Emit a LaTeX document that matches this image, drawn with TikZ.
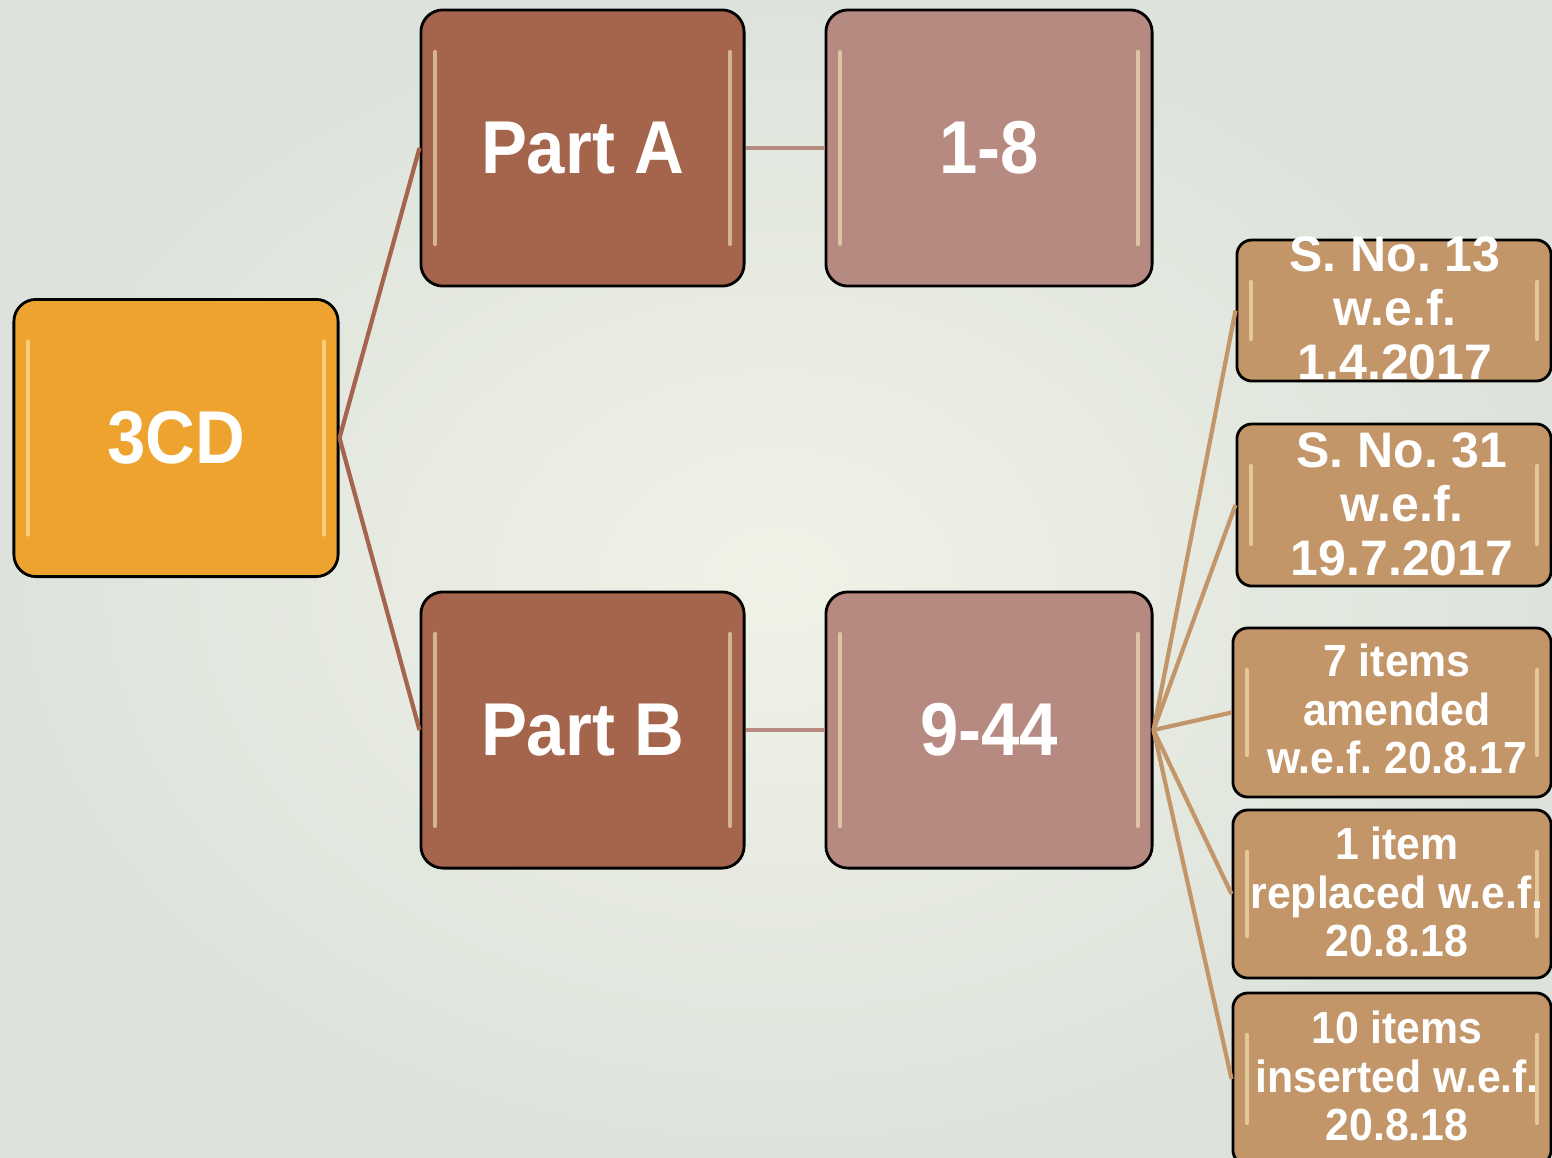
\documentclass[tikz,border=0pt]{standalone}
\usepackage{fontspec}
\setmainfont{Liberation Sans}
\newfontfamily\bigfont[FakeStretch=0.92]{Liberation Sans}
\newfontfamily\leaffont[FakeStretch=0.95]{Liberation Sans}
\frenchspacing
\definecolor{orangebox}{HTML}{EDA32E}
\definecolor{brownbox}{HTML}{A4654C}
\definecolor{pinkbox}{HTML}{B68A80}
\definecolor{tanbox}{HTML}{C3966A}
\definecolor{bginner}{HTML}{F0F2E6}
\definecolor{bgouter}{HTML}{DDE3DC}
\definecolor{glosscol}{HTML}{FFF4C0}
\begin{document}
\begin{tikzpicture}[x=0.01cm,y=-0.01cm,
  gloss/.style={line width=1.3pt,glosscol,opacity=0.55,line cap=round},
  box/.style={draw=black,line width=0.8pt,rounded corners=0.22cm,inner sep=0pt,
    text=white,align=center,
    path picture={
      \draw[gloss] ([xshift=4pt,yshift=-12pt]path picture bounding box.north west) -- ([xshift=4pt,yshift=12pt]path picture bounding box.south west);
      \draw[gloss] ([xshift=-4pt,yshift=-12pt]path picture bounding box.north east) -- ([xshift=-4pt,yshift=12pt]path picture bounding box.south east);
    }},
  bigbox/.style={box,font=\bigfont\bfseries\fontsize{21.3pt}{24pt}\selectfont},
  leafbox/.style={box,rounded corners=0.15cm},
  leaftxtA/.style={text=white,align=center,inner sep=0pt,font=\bfseries\fontsize{14.2pt}{15.4pt}\selectfont},
  leaftxtB/.style={text=white,align=center,inner sep=0pt,font=\leaffont\bfseries\fontsize{12.8pt}{13.7pt}\selectfont},
  conn/.style={line width=1.2pt}
]
\useasboundingbox (0,0) rectangle (1552,1157);
\shade[inner color=bginner,outer color=bgouter] (0,0) rectangle (1552,1157);

% main nodes
\node[bigbox,fill=orangebox,minimum width=3.24cm,minimum height=2.77cm] (c3cd) at (176,438) {3CD};
\node[bigbox,fill=brownbox,minimum width=3.23cm,minimum height=2.76cm] (pa) at (582.5,148) {Part A};
\node[bigbox,fill=pinkbox,minimum width=3.26cm,minimum height=2.76cm] (r18) at (989,148) {1-8};
\node[bigbox,fill=brownbox,minimum width=3.23cm,minimum height=2.76cm] (pb) at (582.5,730) {Part B};
\node[bigbox,fill=pinkbox,minimum width=3.26cm,minimum height=2.76cm] (r944) at (989,730) {9-44};

% leaves (boxes)
\node[leafbox,fill=tanbox,minimum width=3.14cm,minimum height=1.41cm] (l1) at (1394,310.5) {};
\node[leafbox,fill=tanbox,minimum width=3.14cm,minimum height=1.62cm] (l2) at (1394,505) {};
\node[leafbox,fill=tanbox,minimum width=3.18cm,minimum height=1.69cm] (l3) at (1392,712.5) {};
\node[leafbox,fill=tanbox,minimum width=3.18cm,minimum height=1.68cm] (l4) at (1392,894) {};
\node[leafbox,fill=tanbox,minimum width=3.18cm,minimum height=1.72cm] (l5) at (1392,1079) {};

% connectors
\draw[conn,brownbox] (c3cd.east) -- (pa.west);
\draw[conn,brownbox] (c3cd.east) -- (pb.west);
\draw[conn,pinkbox] (pa.east) -- (r18.west);
\draw[conn,pinkbox] (pb.east) -- (r944.west);
\foreach \l in {l1,l2,l3,l4,l5}{
  \draw[conn,tanbox] (r944.east) -- (\l.west);
}

% leaf texts
\node[leaftxtA] (t1) at (1395,308) {S. No. 13\\w.e.f.\\1.4.2017};
\node[leaftxtA] (t2) at (1402,504) {S. No. 31\\w.e.f.\\19.7.2017};
\node[leaftxtB] (t3) at (1397,709) {7 items\\amended\\w.e.f. 20.8.17};
\node[leaftxtB] (t4) at (1397,892) {1 item\\replaced w.e.f.\\20.8.18};
\node[leaftxtB] (t5) at (1397,1076) {10 items\\inserted w.e.f.\\20.8.18};
\end{tikzpicture}
\end{document}
